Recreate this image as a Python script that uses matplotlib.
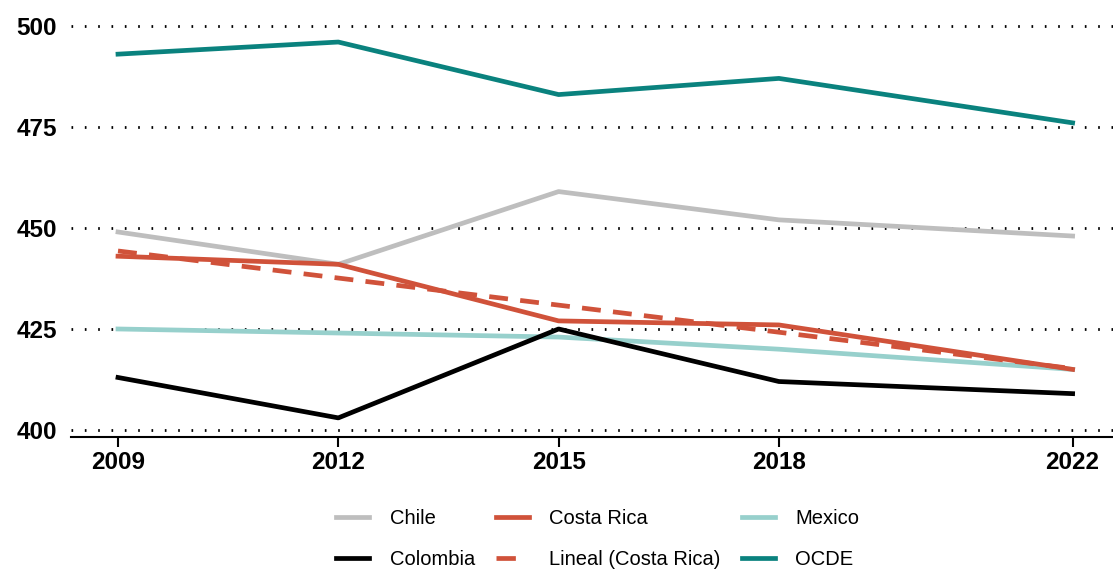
import numpy as np
import matplotlib.pyplot as plt
from matplotlib.lines import Line2D

plt.rcParams['font.family'] = ['Liberation Sans', 'DejaVu Sans']

# Datos
years = [2009, 2012, 2015, 2018, 2022]
chile = [449, 441, 459, 452, 448]
costa_rica = [443, 441, 427, 426, 415]
mexico = [425, 424, 423, 420, 415]
colombia = [413, 403, 425, 412, 409]
lineal_cr = [444.3, 437.6, 430.9, 424.2, 415.2]
ocde = [493, 496, 483, 487, 476]
yticks = [400, 425, 450, 475, 500]

fig = plt.figure(figsize=(11.13, 5.72), dpi=100)
ax = fig.add_axes([0.0638, 0.236, 0.9362, 0.764])

lw = 3.4
red = '#D0523A'
l_chile, = ax.plot(years, chile, color='#BEBEBE', lw=lw, label='Chile')
l_mex, = ax.plot(years, mexico, color='#97D0CC', lw=lw, label='Mexico')
l_cr, = ax.plot(years, costa_rica, color=red, lw=lw, label='Costa Rica')
l_col, = ax.plot(years, colombia, color='black', lw=lw, label='Colombia')
ax.plot(years, lineal_cr, color=red, lw=lw, ls=(0, (4, 2.6)))
l_oc, = ax.plot(years, ocde, color='#0A827E', lw=lw, label='OCDE')
# en la leyenda solo se ve un trazo corto
l_lin = Line2D([], [], color=red, lw=lw, ls=(0, (4.1, 12)),
               label='Lineal (Costa Rica)')

ax.set_xlim(2008.36, 2022.55)
ax.set_ylim(398.27, 506.4)
ax.set_xticks(years)
ax.set_yticks(yticks)
ax.tick_params(axis='y', length=0, pad=10, labelsize=17.5)
ax.tick_params(axis='x', length=7, width=1.5, pad=3, labelsize=17.5)
for t in ax.get_xticklabels() + ax.get_yticklabels():
    t.set_fontweight('bold')

ax.grid(axis='y', color='black', lw=2, ls=(0, (0.6, 4.2)))
ax.set_axisbelow(True)
for s in ['top', 'right', 'left']:
    ax.spines[s].set_visible(False)
ax.spines['bottom'].set_linewidth(1.5)

handles = [l_chile, l_col, l_cr, l_lin, l_mex, l_oc]
fig.legend(handles=handles, labels=[h.get_label() for h in handles],
           ncol=3, loc='center', bbox_to_anchor=(0.537, 0.057),
           frameon=False, fontsize=14.5, handlelength=1.65,
           handletextpad=1.0, columnspacing=1.05, labelspacing=1.1)

fig.savefig('out.png', dpi=100)
